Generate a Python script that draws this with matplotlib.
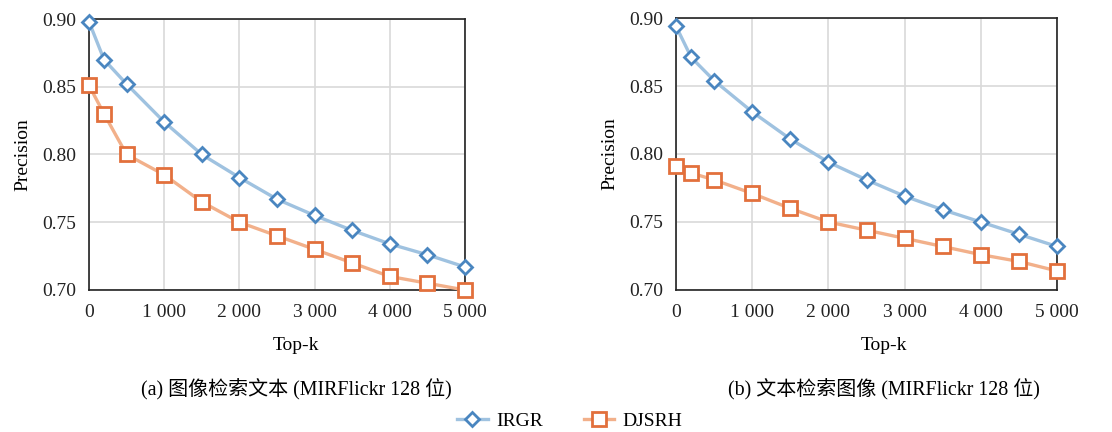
import matplotlib.pyplot as plt
import numpy as np

plt.rcParams['font.family'] = ['Liberation Serif', 'Noto Sans CJK SC']

topk = [0, 200, 500, 1000, 1500, 2000, 2500, 3000, 3500, 4000, 4500, 5000]

# (a) image -> text
irgr_i2t = [0.898, 0.870, 0.852, 0.824, 0.800, 0.783, 0.767, 0.755, 0.744, 0.734, 0.726, 0.717]
djsrh_i2t = [0.851, 0.830, 0.800, 0.785, 0.765, 0.750, 0.740, 0.730, 0.720, 0.710, 0.705, 0.700]
# (b) text -> image
irgr_t2i = [0.894, 0.871, 0.854, 0.831, 0.811, 0.794, 0.781, 0.769, 0.759, 0.750, 0.741, 0.732]
djsrh_t2i = [0.791, 0.786, 0.781, 0.771, 0.760, 0.750, 0.744, 0.738, 0.732, 0.726, 0.721, 0.714]

xticks = [0, 1000, 2000, 3000, 4000, 5000]
xticklabels = ['0', '1 000', '2 000', '3 000', '4 000', '5 000']
yticks = [0.70, 0.75, 0.80, 0.85, 0.90]
captions = ['(a) 图像检索文本 (MIRFlickr 128 位)', '(b) 文本检索图像 (MIRFlickr 128 位)']

blue_line, blue_edge = '#9fc2e0', '#4a86c0'
orange_line, orange_edge = '#f2b08a', '#e2703c'

fig = plt.figure(figsize=(11.12, 4.32), dpi=100)
W, H = 1112, 432
boxes = [(89, 19, 465, 290), (676, 18, 1057, 290)]
series = [(irgr_i2t, djsrh_i2t), (irgr_t2i, djsrh_t2i)]
label_x = [296, 884]
fs = 14

for (l, t, r, b), (irgr, djsrh), cap, cx in zip(boxes, series, captions, label_x):
    ax = fig.add_axes([l / W, 1 - b / H, (r - l) / W, (b - t) / H])
    h1, = ax.plot(topk, irgr, color=blue_line, lw=2.4, marker='D', ms=7.5,
                  mfc='white', mec=blue_edge, mew=2, clip_on=False, zorder=4, label='IRGR')
    h2, = ax.plot(topk, djsrh, color=orange_line, lw=2.4, marker='s', ms=10,
                  mfc='white', mec=orange_edge, mew=2, clip_on=False, zorder=3, label='DJSRH')
    ax.set_xlim(0, 5000)
    ax.set_ylim(0.70, 0.90)
    ax.set_xticks(xticks)
    ax.set_xticklabels(xticklabels)
    ax.set_yticks(yticks)
    ax.set_yticklabels(['%.2f' % v for v in yticks])
    ax.grid(True, color='#d9d9d9', lw=1.2)
    ax.set_axisbelow(True)
    ax.tick_params(length=0, labelsize=fs, colors='#222222')
    ax.tick_params(axis='x', pad=10)
    ax.tick_params(axis='y', pad=9)
    for s in ax.spines.values():
        s.set_color('#222222')
        s.set_linewidth(1.2)
    ax.set_ylabel('Precision', fontsize=fs, labelpad=8)
    ax.set_xlabel('Top-k', fontsize=fs)
    ax.xaxis.set_label_coords((cx - l) / (r - l), -(346 - b) / (b - t), transform=ax.transAxes)
    ax.xaxis.label.set_va('center')
    fig.text(cx / W, 1 - 390 / H, cap, ha='center', va='center', fontsize=14.4)

fig.legend(handles=[h1, h2], loc='center', bbox_to_anchor=(570 / W, 1 - 421 / H),
           ncol=2, frameon=False, fontsize=fs, handlelength=1.55, columnspacing=2.1,
           handletextpad=0.45)

fig.savefig('out.png', dpi=100)
